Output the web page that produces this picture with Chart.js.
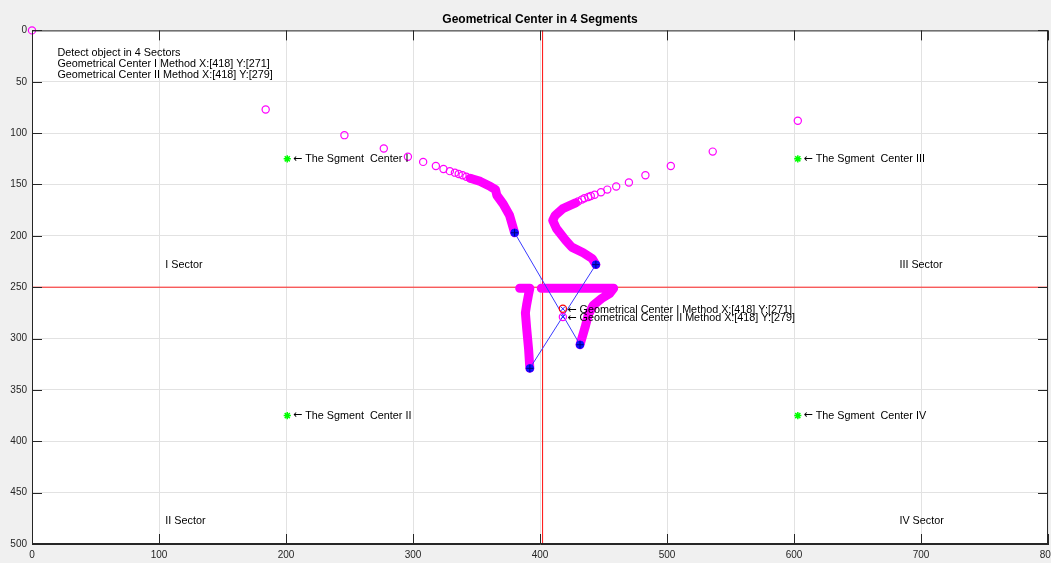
<!DOCTYPE html>
<html>
<head>
<meta charset="utf-8">
<script src="https://cdn.jsdelivr.net/npm/chart.js"></script>
<style>
  html, body { margin: 0; padding: 0; background: #f0f0f0; }
</style>
</head>
<body>
<canvas id="geoChart" width="1051" height="563"></canvas>
<script>
// axis ticks
const xTicks = [0, 100, 200, 300, 400, 500, 600, 700, 800];
const yTicks = [0, 50, 100, 150, 200, 250, 300, 350, 400, 450, 500];

// sector split lines
const splitX = 402;
const splitY = 250;

// sparse contour samples (open circles)
const leftDotsX = [0, 184, 246, 277, 296, 308, 318, 324, 329, 333, 336, 339, 342, 345];
const leftDotsY = [0, 77, 102, 115, 123, 128, 132, 135, 137, 138.5, 139.8, 141, 142.5, 144];
const rightDotsX = [603, 536, 503, 483, 470, 460, 453, 448, 443, 440, 438, 435, 433, 430, 428];
const rightDotsY = [88, 118, 132, 141, 148, 152, 155, 157.5, 160, 161.2, 162.2, 163.4, 164.7, 166.5, 168];

// dense contour runs (overlapping circles, drawn as thick strokes)
const upperLeftX = [345, 353, 361, 365, 366, 371, 376, 380];
const upperLeftY = [144, 147, 152, 155, 160.5, 169, 180, 197];
const upperRightX = [428, 418, 412, 410, 413, 420, 425, 434, 441, 444];
const upperRightY = [168, 173.5, 180, 185, 193, 204, 211, 216.5, 222, 228];
const lowerLeftX = [384, 392, 391, 389.5, 388.5, 389.5, 391, 392];
const lowerLeftY = [251, 251, 257, 267, 275, 290, 310, 329];
const lowerRightX = [401, 458, 455, 448.5, 442, 438, 435.5, 431.5];
const lowerRightY = [251, 251, 256, 261, 267.5, 277, 289, 306];

// segment end points (blue) - diagonals join 0-2 and 1-3
const cornerX = [380, 444, 431.5, 392];
const cornerY = [197, 228, 306, 329];

// geometrical centers: I method, II method
const centerX = [418, 418];
const centerY = [271, 279];

// segment centers (green stars)
const segX = [201, 201, 603, 603];
const segY = [125, 375, 125, 375];

// text annotations
const noteLines = ['Detect object in 4 Sectors',
  'Geometrical Center I Method X:[418] Y:[271]',
  'Geometrical Center II Method X:[418] Y:[279]'];
const noteY = [22, 33, 43];
const sectorNames = ['I Sector', 'II Sector', 'III Sector', 'IV Sector'];
const sectorX = [105, 105, 683, 683];
const sectorY = [228, 478, 228, 478];
const segNames = ['The Sgment  Center I', 'The Sgment  Center II',
  'The Sgment  Center III', 'The Sgment  Center IV'];
const centerNames = ['Geometrical Center I Method X:[418] Y:[271]',
  'Geometrical Center II Method X:[418] Y:[279]'];

const pts = (xs, ys) => xs.map((x, i) => ({ x: x, y: ys[i] }));

const textItems = []
  .concat(noteLines.map((t, i) => ({ x: 20, y: noteY[i], t: t })))
  .concat(sectorNames.map((t, i) => ({ x: sectorX[i], y: sectorY[i], t: t })))
  .concat(segNames.map((t, i) => ({ x: segX[i] + 4.5, y: segY[i], t: t, arrow: true })))
  .concat(centerNames.map((t, i) => ({ x: centerX[i] + 3.5, y: centerY[i] + 1, t: t, arrow: true })));

const thickRun = (xs, ys) => ({
  data: pts(xs, ys), showLine: true, borderColor: '#ff00ff', borderWidth: 9,
  borderCapStyle: 'round', borderJoinStyle: 'round', pointRadius: 0
});

// listed bottom-to-top, like plot() calls; reversed below since Chart.js paints index 0 last
const layers = [
  { data: [{ x: splitX, y: 0 }, { x: splitX, y: 500 }], showLine: true,
    borderColor: '#ff2020', borderWidth: 1, pointRadius: 0 },
  { data: [{ x: 0, y: splitY }, { x: 800, y: splitY }], showLine: true,
    borderColor: '#ff2020', borderWidth: 1, pointRadius: 0 },
  { data: pts(leftDotsX, leftDotsY).concat(pts(rightDotsX, rightDotsY)), clip: false,
    pointStyle: 'circle', pointRadius: 3.6, borderColor: '#ff00ff', borderWidth: 1.2,
    backgroundColor: 'rgba(0,0,0,0)' },
  thickRun(upperLeftX, upperLeftY),
  thickRun(upperRightX, upperRightY),
  thickRun(lowerLeftX, lowerLeftY),
  thickRun(lowerRightX, lowerRightY),
  { data: [{ x: cornerX[0], y: cornerY[0] }, { x: cornerX[2], y: cornerY[2] }], showLine: true,
    borderColor: '#3a3aff', borderWidth: 1, pointRadius: 0 },
  { data: [{ x: cornerX[1], y: cornerY[1] }, { x: cornerX[3], y: cornerY[3] }], showLine: true,
    borderColor: '#3a3aff', borderWidth: 1, pointRadius: 0 },
  { data: pts(cornerX, cornerY), pointStyle: 'circle', pointRadius: 3.8,
    backgroundColor: '#1010ff', borderColor: '#1010ff', borderWidth: 1 },
  { data: pts(cornerX, cornerY), pointStyle: 'cross', pointRadius: 3.6,
    borderColor: '#000080', borderWidth: 1 },
  { data: [{ x: centerX[0], y: centerY[0] }], pointStyle: 'circle', pointRadius: 3.6,
    borderColor: '#ff0000', borderWidth: 1.2, backgroundColor: 'rgba(0,0,0,0)' },
  { data: [{ x: centerX[1], y: centerY[1] }], pointStyle: 'circle', pointRadius: 3.6,
    borderColor: '#ff00ff', borderWidth: 1.2, backgroundColor: 'rgba(0,0,0,0)' },
  { data: pts(centerX, centerY), pointStyle: 'crossRot', pointRadius: 3,
    borderColor: '#2020ff', borderWidth: 1 },
  { data: pts(segX, segY), pointStyle: 'star', pointRadius: 3.6,
    borderColor: '#00ff00', borderWidth: 1.5 }
].reverse();

const textFont = '10.8px "Liberation Sans", Arial, sans-serif';
const arrowFont = '11px "DejaVu Sans", sans-serif';

const matlabFrame = {
  id: 'matlabFrame',
  beforeDraw(chart) {
    const a = chart.chartArea, ctx = chart.ctx;
    ctx.save();
    ctx.fillStyle = '#ffffff';
    ctx.fillRect(a.left, a.top, a.right - a.left, a.bottom - a.top);
    ctx.restore();
  },
  afterDatasetsDraw(chart) {
    const ctx = chart.ctx, sx = chart.scales.x, sy = chart.scales.y;
    ctx.save();
    ctx.fillStyle = '#000000';
    ctx.textAlign = 'left';
    ctx.textBaseline = 'middle';
    textItems.forEach(it => {
      let px = sx.getPixelForValue(it.x);
      const py = sy.getPixelForValue(it.y);
      if (it.arrow) {
        ctx.font = arrowFont;
        ctx.fillText('\u2190', px, py);
        px += ctx.measureText('\u2190').width + 3;
      }
      ctx.font = textFont;
      ctx.fillText(it.t, px, py);
    });
    ctx.restore();
  },
  afterDraw(chart) {
    const a = chart.chartArea, ctx = chart.ctx, sx = chart.scales.x, sy = chart.scales.y;
    const len = 10;
    ctx.save();
    ctx.strokeStyle = '#262626';
    ctx.lineWidth = 1;
    ctx.beginPath();
    xTicks.forEach(v => {
      const p = Math.round(sx.getPixelForValue(v)) + 0.5;
      ctx.moveTo(p, a.bottom); ctx.lineTo(p, a.bottom - len);
      ctx.moveTo(p, a.top); ctx.lineTo(p, a.top + len);
    });
    yTicks.forEach(v => {
      const p = Math.round(sy.getPixelForValue(v)) + 0.5;
      ctx.moveTo(a.left, p); ctx.lineTo(a.left + len, p);
      ctx.moveTo(a.right, p); ctx.lineTo(a.right - len, p);
    });
    ctx.stroke();
    ctx.strokeRect(a.left + 0.5, a.top + 0.5, a.right - a.left - 1, a.bottom - a.top - 1);
    ctx.restore();
  }
};

new Chart(document.getElementById('geoChart'), {
  type: 'scatter',
  data: { datasets: layers },
  options: {
    responsive: false,
    animation: false,
    events: [],
    layout: { autoPadding: false, padding: { left: 0, right: 3, top: 0, bottom: 0 } },
    plugins: {
      legend: { display: false },
      tooltip: { enabled: false },
      title: {
        display: true,
        text: 'Geometrical Center in 4 Segments',
        fullSize: false,
        color: '#000000',
        font: { family: '"Liberation Sans", Arial, sans-serif', size: 12, weight: 'bold', lineHeight: 1.2 },
        padding: { top: 12, bottom: 4 }
      }
    },
    scales: {
      x: {
        type: 'linear', min: 0, max: 800,
        afterBuildTicks: s => { s.ticks = xTicks.map(v => ({ value: v })); },
        afterFit: s => { s.height = 19; s.paddingLeft = 0; s.paddingRight = 0; },
        grid: { color: '#e2e2e2', drawTicks: false },
        border: { color: '#262626' },
        ticks: { color: '#262626', padding: 5, maxRotation: 0,
          font: { family: '"Liberation Sans", Arial, sans-serif', size: 10 } }
      },
      y: {
        type: 'linear', min: 0, max: 500, reverse: true,
        afterBuildTicks: s => { s.ticks = yTicks.map(v => ({ value: v })); },
        afterFit: s => { s.width = 32; s.paddingTop = 0; s.paddingBottom = 0; },
        grid: { color: '#e2e2e2', drawTicks: false },
        border: { color: '#262626' },
        ticks: { color: '#262626', padding: 5,
          font: { family: '"Liberation Sans", Arial, sans-serif', size: 10 } }
      }
    }
  },
  plugins: [matlabFrame]
});
</script>
</body>
</html>
